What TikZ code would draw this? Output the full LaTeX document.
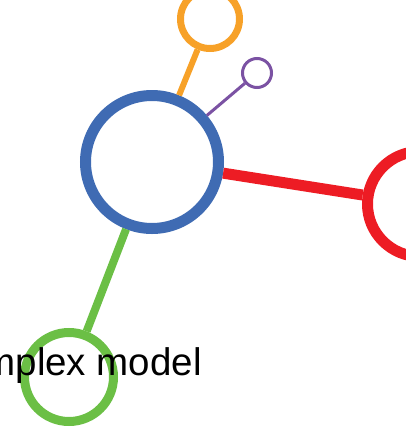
\documentclass[tikz,border=0pt]{standalone}
\usepackage{fontspec}
\setmainfont{Liberation Sans}
\definecolor{cblue}{HTML}{3F6BB3}
\definecolor{corange}{HTML}{F7A128}
\definecolor{cred}{HTML}{ED1C24}
\definecolor{cgreen}{HTML}{6BBF45}
\definecolor{cpurple}{HTML}{7B52A3}
\begin{document}
\begin{tikzpicture}[x=1pt,y=-1pt,
  ring/.style={circle,draw,inner sep=0pt},
  lbl/.style={inner sep=0pt,font=\fontsize{38.5}{46}\selectfont}]
\useasboundingbox (0,0) rectangle (406,432);
\clip (0,0) rectangle (406,432);
\node[ring,draw=cblue,line width=11pt,minimum size=133pt] (hub) at (152,162) {};
\node[ring,draw=corange,line width=7pt,minimum size=59pt] (orange) at (210,19) {};
\node[ring,draw=cpurple,line width=3pt,minimum size=29pt] (purple) at (257,73) {};
\node[ring,draw=cred,line width=11pt,minimum size=105pt] (red) at (420,204) {};
\node[ring,draw=cgreen,line width=9pt,minimum size=89pt] (green) at (69,377) {};
\draw[corange,line width=6pt] (hub) -- (orange);
\draw[cpurple,line width=3pt] (hub) -- (purple);
\draw[cred,line width=11pt] (hub) -- (red);
\draw[cgreen,line width=8pt] (hub) -- (green);
\node[lbl,anchor=base east] (label) at (202,375) {complex model};
\end{tikzpicture}
\end{document}
